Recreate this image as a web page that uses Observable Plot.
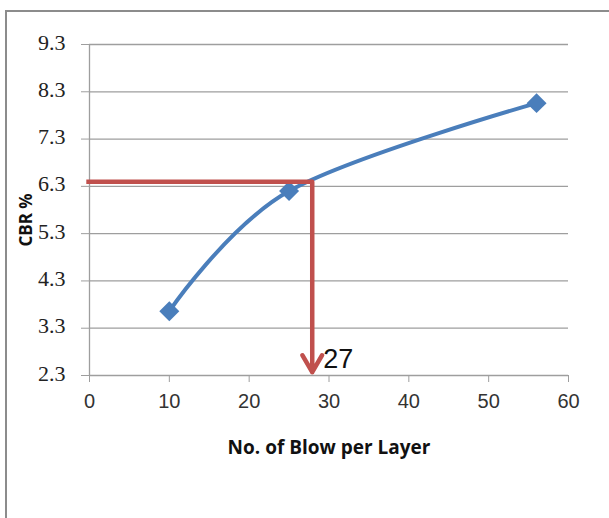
<!DOCTYPE html>
<html>
<head>
<meta charset="utf-8">
<script src="https://cdn.jsdelivr.net/npm/d3@7"></script>
<script src="https://cdn.jsdelivr.net/npm/@observablehq/plot@0.6"></script>
<style>
  html, body { margin: 0; padding: 0; background: #fff; overflow: hidden; }
  #wrap { position: relative; width: 609px; height: 518px; }
  #border { position: absolute; left: 5px; top: 10px; width: 700px; height: 600px;
            border-left: 2px solid #8c8c8c; border-top: 2px solid #8c8c8c; }
  #chart { position: absolute; left: 0; top: 0; }
</style>
</head>
<body>
<div id="wrap"><div id="border"></div><div id="chart"></div></div>
<script>
// Data
const blows = [10, 25, 56];
const cbr = [3.66, 6.2, 8.06];
const xTicks = [0, 10, 20, 30, 40, 50, 60];
const yTicks = [2.3, 3.3, 4.3, 5.3, 6.3, 7.3, 8.3, 9.3];
const readX = [27.9];
const readY = [6.4];
const readLabel = ["27"];
const xTitle = "No. of Blow per Layer";
const yTitle = "CBR %";

const pts = blows.map((b, i) => ({x: b, y: cbr[i]}));
const hLine = [{x: -0.4, y: readY[0]}, {x: readX[0], y: readY[0]}];
const arrowData = [{x1: readX[0], y1: readY[0], x2: readX[0], y2: yTicks[0] + 0.07, label: readLabel[0]}];

const blue = "#4a7ebb";
const red = "#c0504d";

const chart = Plot.plot({
  width: 609,
  height: 518,
  marginLeft: 89,
  marginRight: 41,
  marginTop: 44,
  marginBottom: 143,
  style: {fontFamily: "Liberation Sans, Arial, sans-serif", background: "transparent", color: "#1a1a1a"},
  x: {domain: [0, 60]},
  y: {domain: [2.3, 9.3]},
  marks: [
    Plot.ruleY(yTicks, {stroke: "#9e9e9e", strokeWidth: 1.3, strokeOpacity: 1}),
    Plot.ruleX([0], {stroke: "#9e9e9e", strokeWidth: 1.3}),
    Plot.axisY({ticks: yTicks, tickFormat: () => "", tickSize: 8, stroke: "#9e9e9e", label: null}),
    Plot.axisX({ticks: xTicks, tickFormat: () => "", tickSize: 7, stroke: "#9e9e9e", label: null}),
    Plot.text(yTicks, {y: d => d, frameAnchor: "left", dx: -24, dy: -2, textAnchor: "end", text: d => d.toFixed(1),
                fontSize: 22, fontFamily: "Liberation Serif, serif", fill: "#222"}),
    Plot.text(xTicks, {x: d => d, frameAnchor: "bottom", dy: 18, lineAnchor: "top", text: d => String(d),
                fontSize: 20, fill: "#333"}),
    Plot.text([xTitle], {frameAnchor: "bottom", dy: 78, text: d => d, fontSize: 19, fontWeight: "bold",
                fontFamily: "Open Sans, sans-serif", fill: "#111"}),
    Plot.text([yTitle], {frameAnchor: "left", textAnchor: "middle", dx: -63, dy: 10, rotate: -90, text: d => d,
                fontSize: 17, fontWeight: "bold", fontFamily: "Open Sans, sans-serif", fill: "#111"}),
    Plot.line(pts, {x: "x", y: "y", curve: "cardinal", stroke: blue, strokeWidth: 4}),
    Plot.dot(pts, {x: "x", y: "y", symbol: "diamond2", r: 9, fill: blue, stroke: "none"}),
    Plot.line(hLine, {x: "x", y: "y", stroke: red, strokeWidth: 4.5, strokeLinecap: "butt"}),
    Plot.arrow(arrowData, {x1: "x1", y1: "y1", x2: "x2", y2: "y2", stroke: red, strokeWidth: 4.5,
                headLength: 6.5, headAngle: 60}),
    Plot.text(arrowData, {x: "x2", y: "y2", text: "label", textAnchor: "start", lineAnchor: "bottom",
                dx: 11, dy: -4, fontSize: 27, fill: "#111"})
  ]
});
document.getElementById("chart").appendChild(chart);
</script>
</body>
</html>
